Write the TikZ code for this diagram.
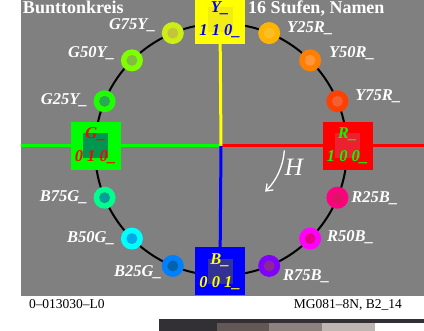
\documentclass[tikz,border=0pt]{standalone}
\usepackage{fontspec}
\setmainfont{Liberation Serif}
\usepackage{xcolor}
\definecolor{bggray}{RGB}{128,128,128}
\definecolor{barbg}{RGB}{50,48,52}
\definecolor{patchA}{RGB}{98,88,86}
\definecolor{patchB}{RGB}{140,130,126}
\definecolor{patchC}{RGB}{190,182,178}
\definecolor{yfull}{RGB}{255,255,0}
\definecolor{yinner}{RGB}{242,236,20}
\definecolor{gfull}{RGB}{0,255,0}
\definecolor{ginner}{RGB}{0,150,80}
\definecolor{rfull}{RGB}{255,0,0}
\definecolor{rinner}{RGB}{236,32,48}
\definecolor{bfull}{RGB}{0,0,255}
\definecolor{binner}{RGB}{50,50,150}
\definecolor{oG75Y}{RGB}{204,238,20}  \definecolor{iG75Y}{RGB}{196,196,60}
\definecolor{oG50Y}{RGB}{128,255,0}   \definecolor{iG50Y}{RGB}{128,190,64}
\definecolor{oG25Y}{RGB}{30,255,0}    \definecolor{iG25Y}{RGB}{40,170,80}
\definecolor{oB75G}{RGB}{0,255,140}   \definecolor{iB75G}{RGB}{0,160,150}
\definecolor{oB50G}{RGB}{0,255,255}   \definecolor{iB50G}{RGB}{0,170,230}
\definecolor{oB25G}{RGB}{0,128,255}   \definecolor{iB25G}{RGB}{0,100,170}
\definecolor{oR75B}{RGB}{128,0,255}   \definecolor{iR75B}{RGB}{140,40,150}
\definecolor{oR50B}{RGB}{255,0,255}   \definecolor{iR50B}{RGB}{230,0,140}
\definecolor{oR25B}{RGB}{255,0,128}   \definecolor{iR25B}{RGB}{220,20,100}
\definecolor{oY75R}{RGB}{255,64,0}    \definecolor{iY75R}{RGB}{240,96,48}
\definecolor{oY50R}{RGB}{255,128,0}   \definecolor{iY50R}{RGB}{255,150,60}
\definecolor{oY25R}{RGB}{255,180,0}   \definecolor{iY25R}{RGB}{250,190,40}
\usepackage{tikz}
\usetikzlibrary{calc,arrows.meta}
\begin{document}
\begin{tikzpicture}[x=1pt,y=1pt,every node/.style={inner sep=0pt,outer sep=0pt},
  lbl/.style={text=white,font=\fontsize{16.5}{18}\selectfont\bfseries\itshape},
  huebox/.style n args={2}{minimum width=50pt,minimum height=48pt,align=center,fill=#1,
    font=\fontsize{16.5}{23}\selectfont\bfseries\itshape,
    path picture={\fill[#2] ($(path picture bounding box.center)+(-12.5,-12.5)$) rectangle +(25,25);}},
  dot/.style={circle,minimum size=22pt},
  axis/.style={line width=3pt}]
\useasboundingbox (0,0) rectangle (424,331);
\fill[bggray] (21,35) rectangle (424,331);
\coordinate (c) at (221,181.5);
\coordinate (o) at (221,185);
\coordinate (gl) at (21,185);
\coordinate (rr) at (424,185);
\draw[line width=2pt] (c) circle[radius=126];
\node (title) [anchor=base west,text=white,font=\fontsize{18}{20}\selectfont\bfseries] at (23,317.5) {Bunttonkreis};
\node (steps) [anchor=base west,text=white,font=\fontsize{18}{20}\selectfont\bfseries] at (248,317.5) {16 Stufen, Namen};
\node (ybox) [huebox={yfull}{yinner},text=bfull] at (220,311) {Y\_\\1 1 0\_};
\node (gbox) [huebox={gfull}{ginner},text=rfull] at (95.5,185) {G\_\\0 1 0\_};
\node (rbox) [huebox={rfull}{rinner},text=gfull] at (347.5,185) {R\_\\1 0 0\_};
\node (bbox) [huebox={bfull}{binner},text=yfull] at (220,59.5) {B\_\\0 0 1\_};
\draw[axis,gfull] (gl) -- (gbox) -- (o);
\draw[axis,rfull] (o) -- (rbox) -- (rr);
\draw[axis,yfull] (ybox) -- (o);
\draw[axis,bfull] (o) -- (bbox);
\foreach \a/\n/\an/\gx/\dy in {112.5/G75Y/east/-17/8, 135/G50Y/east/-17/7, 157.5/G25Y/east/-17/1,
    202.5/B75G/east/-17/1, 225/B50G/east/-17/0, 247.5/B25G/east/-11/-6,
    292.5/R75B/west/14/-10, 315/R50B/west/17/1, 337.5/R25B/west/14/0,
    22.5/Y75R/west/18/5, 45/Y50R/west/19/7, 67.5/Y25R/west/18/5}{
  \node (\n) [dot,fill=o\n] at ([shift={(\a:126)}]c) {};
  \fill[i\n] (\n) circle[radius=5.5];
  \node (l\n) [lbl,anchor=\an] at ([shift={(\gx,\dy)}]\n.center) {\n\_};
}
\coordinate (hs) at ([shift={(-4:63.5)}]o);
\draw[white,line width=1.3pt,-{Straight Barb[length=6pt,width=9pt]}] (hs) arc[start angle=-4,end angle=-46,radius=63.5];
\node (hlbl) [text=white,font=\fontsize{25}{27}\selectfont\itshape] at (294,164) {H};
\node (code) [anchor=base west,font=\fontsize{13.5}{16}\selectfont] at (29,22) {0–013030–L0};
\node (mg) [anchor=base east,font=\fontsize{13.5}{16}\selectfont] at (402,22) {MG081–8N, B2\_14};
\fill[barbg] (159,0) rectangle (424,12);
\fill[patchA] (217,0) rectangle (269,8);
\fill[patchB] (269,0) rectangle (322,8);
\fill[patchC] (322,0) rectangle (375,8);
\fill[white] (375,0) rectangle (424,8);
\end{tikzpicture}
\end{document}
